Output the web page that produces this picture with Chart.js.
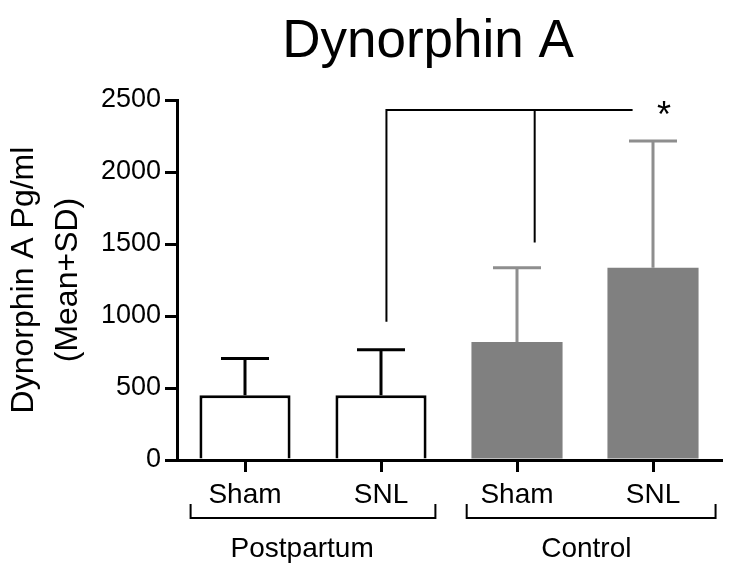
<!DOCTYPE html>
<html>
<head>
<meta charset="utf-8">
<script src="https://cdn.jsdelivr.net/npm/chart.js@4.4.0/dist/chart.umd.min.js"></script>
<style>
  html, body { margin: 0; padding: 0; background: #fff; }
</style>
</head>
<body>
<canvas id="dynChart" width="735" height="573"></canvas>
<script>
// data
const labels = ['Sham', 'SNL', 'Sham', 'SNL'];
const means = [450, 450, 820, 1335];
const upperSD = [705, 765, 1335, 2215];   // mean + SD
const yTicks = [0, 500, 1000, 1500, 2000, 2500];
const groups = ['Postpartum', 'Control'];
const groupFrom = [-0.40, 1.63];   // bracket ends, in category index
const groupTo = [1.40, 3.46];
const groupMid = [0.42, 2.51];
// significance bracket (x = category index, y = data value)
const sigX = [1.04, 2.13, 2.85];
const sigY = [2430, 960, 1510];
const starPos = [3.08, 2450];

const barFill = ['#ffffff', '#ffffff', '#808080', '#808080'];
const barEdge = ['#000000', '#000000', '#808080', '#808080'];
const errColor = ['#000000', '#000000', '#8e8e8e', '#8e8e8e'];

const extras = {
  id: 'extras',
  afterDatasetsDraw(chart) {
    const { ctx, scales: { x, y } } = chart;
    const meta = chart.getDatasetMeta(0);
    ctx.save();
    // error bars (upper only)
    meta.data.forEach((bar, i) => {
      const top = y.getPixelForValue(upperSD[i]);
      ctx.strokeStyle = errColor[i];
      ctx.lineWidth = 3;
      ctx.beginPath();
      ctx.moveTo(bar.x, bar.y);
      ctx.lineTo(bar.x, top);
      ctx.moveTo(bar.x - 24, top);
      ctx.lineTo(bar.x + 24, top);
      ctx.stroke();
    });

    // significance bracket
    const hy = y.getPixelForValue(sigY[0]);
    ctx.strokeStyle = '#000';
    ctx.lineWidth = 2;
    ctx.beginPath();
    ctx.moveTo(x.getPixelForValue(sigX[0]), y.getPixelForValue(sigY[1]));
    ctx.lineTo(x.getPixelForValue(sigX[0]), hy);
    ctx.lineTo(x.getPixelForValue(sigX[2]), hy);
    ctx.moveTo(x.getPixelForValue(sigX[1]), hy);
    ctx.lineTo(x.getPixelForValue(sigX[1]), y.getPixelForValue(sigY[2]));
    ctx.stroke();

    ctx.fillStyle = '#000';
    ctx.font = '36px "Liberation Sans", Arial, sans-serif';
    ctx.textAlign = 'center';
    ctx.textBaseline = 'alphabetic';
    ctx.fillText('*', x.getPixelForValue(starPos[0]), y.getPixelForValue(starPos[1]) + 20);
    ctx.restore();
  },
  afterDraw(chart) {
    const { ctx, scales: { x } } = chart;
    ctx.save();
    ctx.fillStyle = '#000';
    ctx.textAlign = 'center';
    // title
    ctx.font = '53px "Liberation Sans", Arial, sans-serif';
    ctx.textBaseline = 'alphabetic';
    ctx.fillText('Dynorphin A', 428, 57);

    // group brackets under the tick labels
    ctx.strokeStyle = '#000';
    ctx.lineWidth = 2;
    ctx.font = '28px "Liberation Sans", Arial, sans-serif';
    ctx.textBaseline = 'middle';
    groups.forEach((g, i) => {
      const a = x.getPixelForValue(groupFrom[i]);
      const b = x.getPixelForValue(groupTo[i]);
      ctx.beginPath();
      ctx.moveTo(a, 504);
      ctx.lineTo(a, 518);
      ctx.lineTo(b, 518);
      ctx.lineTo(b, 504);
      ctx.stroke();
      ctx.fillText(g, x.getPixelForValue(groupMid[i]), 549);
    });
    ctx.restore();
  }
};

const config = {
  type: 'bar',
  data: {
    labels: labels,
    datasets: [{
      data: means,
      backgroundColor: barFill,
      borderColor: barEdge,
      borderWidth: [3, 3, 0, 0],
      categoryPercentage: 1,
      barPercentage: 0.67,
    }]
  },
  options: {
    responsive: false,
    animation: false,
    layout: { padding: { top: 100, right: 14, bottom: 61, left: 0 } },
    plugins: {
      legend: { display: false },
      tooltip: { enabled: false },
    },
    scales: {
      x: {
        grid: {
          offset: false,
          drawOnChartArea: false,
          tickLength: 12,
          lineWidth: 3,
          color: '#000',
        },
        border: { display: true, color: '#000', width: 3 },
        ticks: {
          color: '#000',
          padding: 6,
          font: { family: '"Liberation Sans", Arial, sans-serif', size: 28 },
        },
        afterFit(scale) { scale.height = 52; },
      },
      y: {
        min: 0,
        max: 2500,
        afterBuildTicks(scale) { scale.ticks = yTicks.map(v => ({ value: v })); },
        grid: {
          drawOnChartArea: false,
          tickLength: 12,
          lineWidth: 3,
          color: '#000',
        },
        border: { display: true, color: '#000', width: 3 },
        ticks: {
          color: '#000',
          padding: 4,
          font: { family: '"Liberation Sans", Arial, sans-serif', size: 27 },
          callback: (v) => String(v),
        },
        title: {
          display: true,
          text: ['Dynorphin A Pg/ml', '(Mean+SD)'],
          color: '#000',
          padding: { top: 2, bottom: 0 },
          font: { family: '"Liberation Sans", Arial, sans-serif', size: 32, lineHeight: 1.38 },
        },
        afterFit(scale) { scale.width = 177; },
      }
    }
  },
  plugins: [extras]
};

const dynChart = new Chart(document.getElementById('dynChart').getContext('2d'), config);
</script>
</body>
</html>
